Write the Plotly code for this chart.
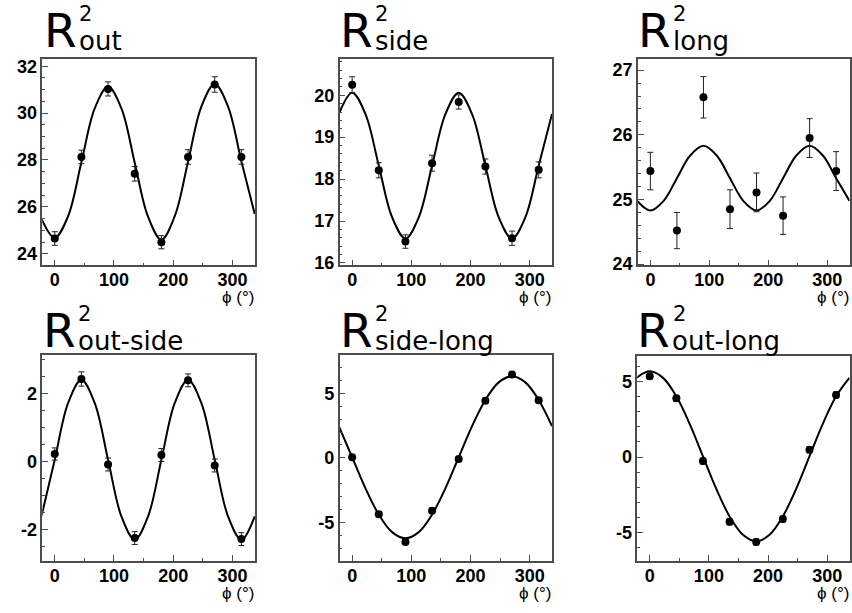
import plotly.graph_objects as go

W, H = 852, 613

# Measured azimuthal angles (degrees)
phi = [0, 45, 90, 135, 180, 225, 270, 315]

# HBT radii squared vs. phi (fm^2) with statistical errors
r2_out = [24.65, 28.13, 31.03, 27.41, 24.49, 28.13, 31.22, 28.13]
r2_out_err = [0.29, 0.29, 0.30, 0.31, 0.28, 0.31, 0.33, 0.31]
r2_side = [20.25, 18.21, 16.51, 18.38, 19.84, 18.30, 16.59, 18.22]
r2_side_err = [0.19, 0.18, 0.16, 0.19, 0.17, 0.18, 0.17, 0.19]
r2_long = [25.44, 24.52, 26.58, 24.85, 25.11, 24.75, 25.95, 25.44]
r2_long_err = [0.29, 0.28, 0.32, 0.30, 0.30, 0.29, 0.30, 0.30]
r2_os = [0.22, 2.43, -0.09, -2.26, 0.19, 2.39, -0.12, -2.29]
r2_os_err = [0.18, 0.21, 0.19, 0.19, 0.19, 0.19, 0.19, 0.19]
r2_sl = [0.05, -4.37, -6.52, -4.09, -0.08, 4.42, 6.46, 4.47]
r2_sl_err = [0.2, 0.2, 0.2, 0.2, 0.2, 0.2, 0.2, 0.2]
r2_ol = [5.35, 3.89, -0.26, -4.28, -5.61, -4.10, 0.48, 4.11]
r2_ol_err = [0.2, 0.2, 0.2, 0.2, 0.2, 0.2, 0.2, 0.2]

# Fit curves sampled every 22.5 degrees
phi_fit = [-22.5, 0, 22.5, 45, 67.5, 90, 112.5, 135, 157.5, 180,
           202.5, 225, 247.5, 270, 292.5, 315, 337.5]
fit_out = [25.50, 24.68, 25.60, 27.90, 30.20, 31.13, 30.20, 27.88, 25.58,
           24.60, 25.60, 27.92, 30.28, 31.24, 30.28, 27.95, 25.70]
fit_side = [19.55, 20.06, 19.55, 18.32, 17.09, 16.58, 17.09, 18.32, 19.55,
            20.06, 19.55, 18.32, 17.09, 16.58, 17.09, 18.32, 19.55]
fit_long = [24.98, 24.83, 24.98, 25.33, 25.68, 25.83, 25.68, 25.33, 24.98,
            24.83, 24.98, 25.33, 25.68, 25.83, 25.68, 25.33, 24.98]
fit_os = [-1.62, 0.05, 1.72, 2.41, 1.72, 0.05, -1.62, -2.31, -1.62,
          0.05, 1.72, 2.41, 1.72, 0.05, -1.62, -2.31, -1.62]
fit_sl = [2.46, 0.05, -2.36, -4.39, -5.75, -6.23, -5.75, -4.39, -2.36,
          0.05, 2.46, 4.49, 5.85, 6.33, 5.85, 4.49, 2.46]
fit_ol = [5.24, 5.67, 5.24, 4.02, 2.20, 0.05, -2.10, -3.92, -5.14,
          -5.57, -5.14, -3.92, -2.10, 0.05, 2.20, 4.02, 5.24]

subscripts = ["out", "side", "long", "out-side", "side-long", "out-long"]
x_ticks = [0, 100, 200, 300]
y_ticks = [
    [24, 26, 28, 30, 32],
    [16, 17, 18, 19, 20],
    [24, 25, 26, 27],
    [-2, 0, 2],
    [-5, 0, 5],
    [-5, 0, 5],
]

panels = [
    dict(y=r2_out, e=r2_out_err, f=fit_out, yr=[23.5, 32.3], mdt=0.5),
    dict(y=r2_side, e=r2_side_err, f=fit_side, yr=[15.94, 20.86], mdt=0.2),
    dict(y=r2_long, e=r2_long_err, f=fit_long, yr=[23.98, 27.17], mdt=0.2),
    dict(y=r2_os, e=r2_os_err, f=fit_os, yr=[-2.94, 3.13], mdt=0.5),
    dict(y=r2_sl, e=r2_sl_err, f=fit_sl, yr=[-8.0, 7.95], mdt=1),
    dict(y=r2_ol, e=r2_ol_err, f=fit_ol, yr=[-6.88, 6.69], mdt=1),
]

# Frame boxes in pixels: (left, right, top, bottom)
frames = [
    (42.3, 255.0, 57.3, 267.7),
    (339.7, 552.3, 57.3, 267.7),
    (638.0, 849.7, 57.3, 267.7),
    (42.3, 255.0, 359.3, 569.3),
    (339.7, 552.3, 359.3, 569.3),
    (637.3, 849.7, 360.0, 569.3),
]
title_left = [45.0, 341.3, 639.0, 44.0, 341.3, 638.7]


def px_x(v):
    return v / W


def px_y(v):
    return 1 - v / H


def bold_labels(vals):
    return ["<b>%s</b>" % ("%g" % v) for v in vals]


fig = go.Figure()
layout = dict(
    width=W, height=H, margin=dict(l=0, r=0, t=0, b=0),
    paper_bgcolor="white", plot_bgcolor="white", showlegend=False,
)
annotations = []

frame_color = "#4d4d4d"
tick_font = dict(family="Liberation Sans, Arial, sans-serif", size=18,
                 color="black")

for i, (p, fr) in enumerate(zip(panels, frames)):
    n = "" if i == 0 else str(i + 1)
    xa, ya = "x" + n, "y" + n
    fig.add_trace(go.Scatter(
        x=phi_fit, y=p["f"], mode="lines", xaxis=xa, yaxis=ya,
        line=dict(color="black", width=2, shape="spline", smoothing=1.0),
        hoverinfo="skip",
    ))
    fig.add_trace(go.Scatter(
        x=phi, y=p["y"], mode="markers", xaxis=xa, yaxis=ya,
        marker=dict(color="black", size=8),
        error_y=dict(type="data", array=p["e"], visible=True,
                     color="#222222", thickness=1, width=3),
    ))
    left, right, top, bottom = fr
    layout["xaxis" + n] = dict(
        domain=[px_x(left), px_x(right)], range=[-21, 338], anchor=ya,
        tickmode="array", tickvals=x_ticks, ticktext=bold_labels(x_ticks),
        ticks="inside", ticklen=6, tickcolor=frame_color, tickwidth=1,
        ticklabelstandoff=-3,
        minor=dict(dtick=50, tick0=0, ticks="inside", ticklen=3,
                   tickcolor=frame_color),
        showline=True, linecolor=frame_color, linewidth=1.5, mirror=True,
        showgrid=False, zeroline=False, tickfont=tick_font,
    )
    layout["yaxis" + n] = dict(
        domain=[px_y(bottom), px_y(top)], range=p["yr"], anchor=xa,
        tickmode="array", tickvals=y_ticks[i],
        ticktext=bold_labels(y_ticks[i]),
        ticks="inside", ticklen=6, tickcolor=frame_color, tickwidth=1,
        minor=dict(dtick=p["mdt"], tick0=0, ticks="inside", ticklen=3,
                   tickcolor=frame_color),
        showline=True, linecolor=frame_color, linewidth=1.5, mirror=True,
        showgrid=False, zeroline=False, tickfont=tick_font,
    )

    # Panel title: R with stacked superscript 2 and subscript label
    row_off = 0 if i < 3 else 306
    rl = title_left[i]
    annotations.append(dict(
        text="R", xref="paper", yref="paper", showarrow=False,
        x=px_x(rl - 3.5), y=px_y(46.5 + row_off + 12), xanchor="left",
        yanchor="bottom", font=dict(family="DejaVu Sans", size=47, color="black"),
    ))
    annotations.append(dict(
        text="2", xref="paper", yref="paper", showarrow=False,
        x=px_x(rl + 31.8), y=px_y(19.2 + row_off + 6), xanchor="left",
        yanchor="bottom", font=dict(family="DejaVu Sans", size=21, color="black"),
    ))
    annotations.append(dict(
        text=subscripts[i], xref="paper", yref="paper", showarrow=False,
        x=px_x(rl + 31.6), y=px_y(48.6 + row_off + 7), xanchor="left",
        yanchor="bottom", font=dict(family="DejaVu Sans", size=26, color="black"),
    ))
    # Axis title
    annotations.append(dict(
        text="ϕ (°)", xref="paper", yref="paper", showarrow=False,
        x=px_x(right + 1), y=px_y(bottom + 33), xanchor="right",
        yanchor="middle",
        font=dict(family="Liberation Sans, Arial, sans-serif", size=17,
                  color="black"),
    ))

layout["annotations"] = annotations
fig.update_layout(**layout)
fig.write_html("out.html")
